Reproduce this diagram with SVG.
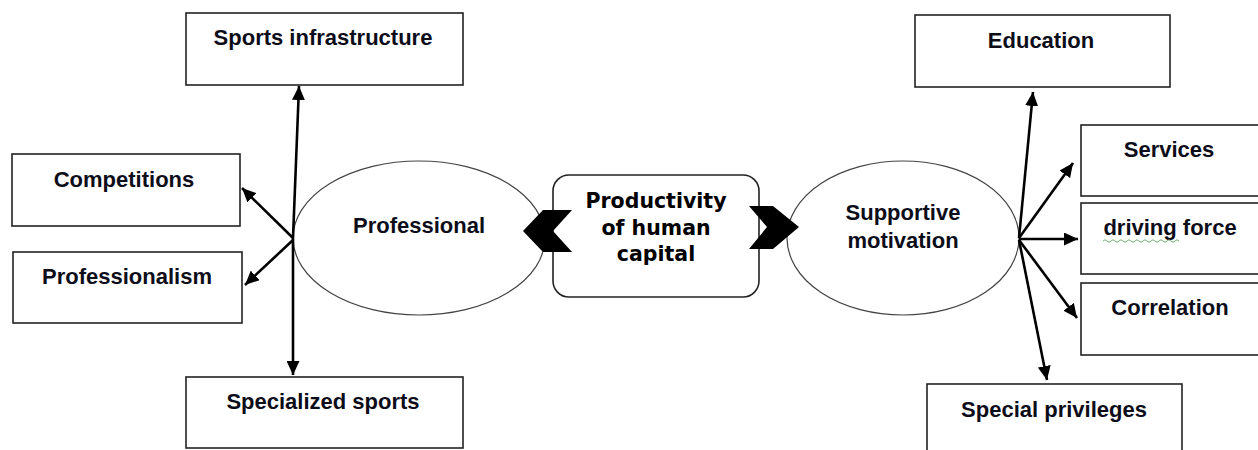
<svg xmlns="http://www.w3.org/2000/svg" width="1258" height="450" viewBox="0 0 1258 450">
<style>
.box{fill:#fff;stroke:#222;stroke-width:1.6}
.ell{fill:#fff;stroke:#444;stroke-width:1.2}
.lbl{font-family:"Liberation Sans",Arial,sans-serif;font-weight:bold;font-size:22px;fill:#0d0d1a;text-anchor:middle}
.ctr{font-family:"DejaVu Sans",sans-serif;font-weight:bold;font-size:20.5px;fill:#000;text-anchor:middle}
.arr{stroke:#000;stroke-width:2.6;fill:none;marker-end:url(#ah)}
</style>
<defs>
<marker id="ah" markerUnits="userSpaceOnUse" markerWidth="15" markerHeight="13" refX="14" refY="6.5" orient="auto">
<path d="M0,0 L14,6.5 L0,13 z" fill="#000"/>
</marker>
</defs>
<rect width="1258" height="450" fill="#fff"/>

<g id="sports-infrastructure"><rect class="box" x="186" y="13" width="277" height="72"/><text class="lbl" x="323" y="45">Sports infrastructure</text></g>
<g id="competitions"><rect class="box" x="12" y="154" width="228" height="72"/><text class="lbl" x="124" y="187">Competitions</text></g>
<g id="professionalism"><rect class="box" x="13" y="252" width="229" height="71"/><text class="lbl" x="127" y="284">Professionalism</text></g>
<g id="specialized-sports"><rect class="box" x="186" y="377" width="277" height="71"/><text class="lbl" x="323" y="409">Specialized sports</text></g>

<g id="professional"><ellipse class="ell" cx="419" cy="238" rx="126" ry="77"/><text class="lbl" x="419" y="233">Professional</text></g>

<g id="education"><rect class="box" x="915" y="15" width="255" height="72"/><text class="lbl" x="1041" y="48">Education</text></g>
<g id="services"><rect class="box" x="1081" y="125" width="190" height="71"/><text class="lbl" x="1169" y="157">Services</text></g>
<g id="driving-force"><rect class="box" x="1081" y="203" width="190" height="71"/><text class="lbl" x="1170" y="235">driving force</text>
<path d="M1103,241 q2,-2.5 4,0 t4,0 t4,0 t4,0 t4,0 t4,0 t4,0 t4,0 t4,0 t4,0 t4,0 t4,0 t4,0 t4,0 t4,0 t4,0 t4,0 t4,0 t4,0" fill="none" stroke="#6fb36f" stroke-width="1"/></g>
<g id="correlation"><rect class="box" x="1081" y="283" width="190" height="72"/><text class="lbl" x="1170" y="315">Correlation</text></g>
<g id="special-privileges"><rect class="box" x="927" y="384" width="255" height="80"/><text class="lbl" x="1054" y="417">Special privileges</text></g>

<g id="supportive-motivation"><ellipse class="ell" cx="903" cy="238" rx="116" ry="77"/><text class="lbl" x="903" y="220">Supportive</text><text class="lbl" x="903" y="248">motivation</text></g>

<g id="productivity">
<rect x="553" y="175" width="206" height="122" rx="16" fill="#fff" stroke="#222" stroke-width="1.6"/>
<path d="M543,210 L572,210 L553,231 L572,252 L543,252 L523,231 z" fill="#000"/>
<path d="M749,206 L773,206 L799,227 L773,249 L749,249 L767,227 z" fill="#000"/>
<text class="ctr" x="656" y="208">Productivity</text>
<text class="ctr" x="656" y="235">of human</text>
<text class="ctr" x="656" y="261">capital</text>
</g>

<g id="connectors">
<line class="arr" x1="293" y1="238" x2="299" y2="86"/>
<line class="arr" x1="293" y1="238" x2="242" y2="188"/>
<line class="arr" x1="293" y1="240" x2="245" y2="285"/>
<line class="arr" x1="293" y1="238" x2="293" y2="375"/>
<line class="arr" x1="1019" y1="238" x2="1033" y2="92"/>
<line class="arr" x1="1019" y1="238" x2="1073" y2="163"/>
<line class="arr" x1="1019" y1="239" x2="1078" y2="239"/>
<line class="arr" x1="1019" y1="240" x2="1077" y2="318"/>
<line class="arr" x1="1019" y1="240" x2="1047" y2="380"/>
</g>
</svg>
